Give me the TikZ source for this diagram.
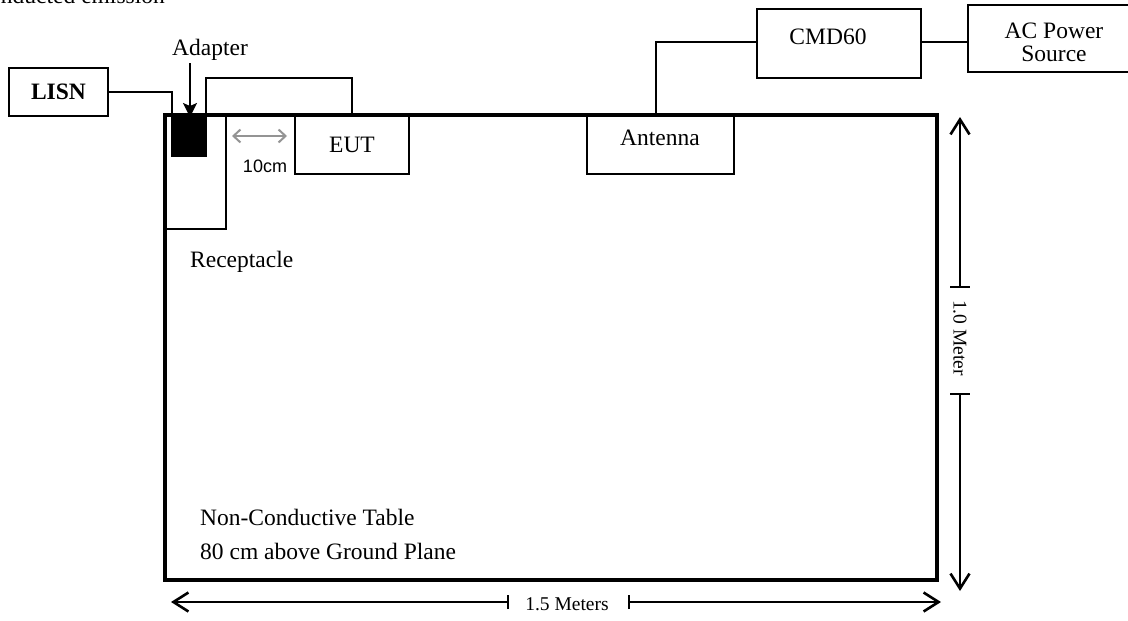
\documentclass[tikz,border=0pt]{standalone}
\usepackage{fontspec}
\setmainfont{Liberation Serif}
\newfontfamily\arialf{Liberation Sans}
\usetikzlibrary{arrows.meta}
\begin{document}
\begin{tikzpicture}[x=1pt,y=-1pt,
  box/.style={draw, line width=1.3pt, inner sep=0, outer sep=0},
  wire/.style={line width=1.2pt},
  lbl/.style={inner sep=0, font=\fontsize{23.5}{26}\selectfont},
  small/.style={inner sep=0, font=\fontsize{19.5}{22}\selectfont},
  barb/.tip={Straight Barb[length=15pt,width=19pt,line width=2.6pt]},
  gbarb/.tip={Straight Barb[length=7pt,width=13pt,line width=2pt]},
  dim/.style={line width=1.3pt},
]
\useasboundingbox (0,0) rectangle (1128,621);
% cut-off title
\node[lbl, anchor=base east] (title) at (165,3) {Conducted emission};
% table
\node[box, line width=3.5pt, minimum width=772pt, minimum height=465pt] (table) at (551,347.5) {};
% receptacle
\node[box, minimum width=61pt, minimum height=114pt] (recep) at (195.5,172) {};
% adapter block
\node[box, fill=black, minimum width=34pt, minimum height=41pt] (adapter) at (189,135.5) {};
% LISN
\node[box, minimum width=99pt, minimum height=48pt, font=\fontsize{23.5}{26}\selectfont\bfseries] (lisn) at (58.5,92) {LISN};
% EUT
\node[box, minimum width=114pt, minimum height=59pt, font=\fontsize{23.5}{26}\selectfont] (eut) at (352,144.5) {EUT};
% Antenna
\node[box, minimum width=147pt, minimum height=59pt] (ant) at (660.5,144.5) {};
\node[lbl] (antl) at (660,138) {Antenna};
% CMD60
\node[box, minimum width=164pt, minimum height=69pt] (cmd) at (839,43.5) {};
\node[lbl] (cmdl) at (828,37) {CMD60};
% AC Power Source
\node[box, minimum width=172pt, minimum height=67pt] (ac) at (1054,38.5) {};
\node[lbl, align=center] (acl) at (1054,42) {AC Power\\[-3pt]Source};
% labels
\node[lbl, anchor=base] (adl) at (210,55) {Adapter};
\node[lbl, anchor=base west] (recl) at (190,267) {Receptacle};
\node[lbl, anchor=base west] (ncl) at (200,525) {Non-Conductive Table};
\node[lbl, anchor=base west] (gpl) at (200,559) {80 cm above Ground Plane};
\node[inner sep=0, font=\arialf\fontsize{18}{20}\selectfont] (tencm) at (265,166) {10cm};
% wires
\draw[wire] (lisn.east) -| (adapter.north west);
\draw[wire] (adapter.north east) -- ++(0,-37) -| (eut.north);
\draw[wire] ([xshift=-4.5pt]ant.north) |- ([yshift=1.5pt]cmd.west);
\draw[wire] ([yshift=1.5pt]cmd.east) -- ([yshift=1.5pt]cmd.east -| ac.west);
% adapter arrow
\coordinate (adtail) at (190,63);
\draw[line width=1.8pt, -{Stealth[length=14pt,width=14pt,inset=3pt]}] (adtail) -- ([xshift=1pt,yshift=-2pt]adapter.north);
% 10 cm arrow
\coordinate (ta) at (232,136);
\coordinate (tb) at (287,136);
\draw[line width=2pt, color=black!42, {gbarb}-{gbarb}] (ta) -- (tb);
% vertical dimension
\coordinate (vt) at (960,117);
\coordinate (vb) at (960,591);
\coordinate (vt1) at (960,287);
\coordinate (vt2) at (960,394);
\draw[dim, {barb}-] (vt) -- (vt1);
\draw[dim] ([xshift=-10pt]vt1) -- ([xshift=10pt]vt1);
\draw[dim] ([xshift=-10pt]vt2) -- ([xshift=10pt]vt2);
\draw[dim, -{barb}] (vt2) -- (vb);
\node[small, rotate=-90] (vlbl) at (960,338) {1.0 Meter};
% horizontal dimension
\coordinate (hl) at (171,602);
\coordinate (hr) at (941,602);
\coordinate (h1) at (508,602);
\coordinate (h2) at (629,602);
\draw[dim, {barb}-] (hl) -- (h1);
\draw[dim] ([yshift=-7pt]h1) -- ([yshift=7pt]h1);
\draw[dim] ([yshift=-7pt]h2) -- ([yshift=7pt]h2);
\draw[dim, -{barb}] (h2) -- (hr);
\node[small] (hlbl) at (567,604) {1.5 Meters};
\end{tikzpicture}
\end{document}
